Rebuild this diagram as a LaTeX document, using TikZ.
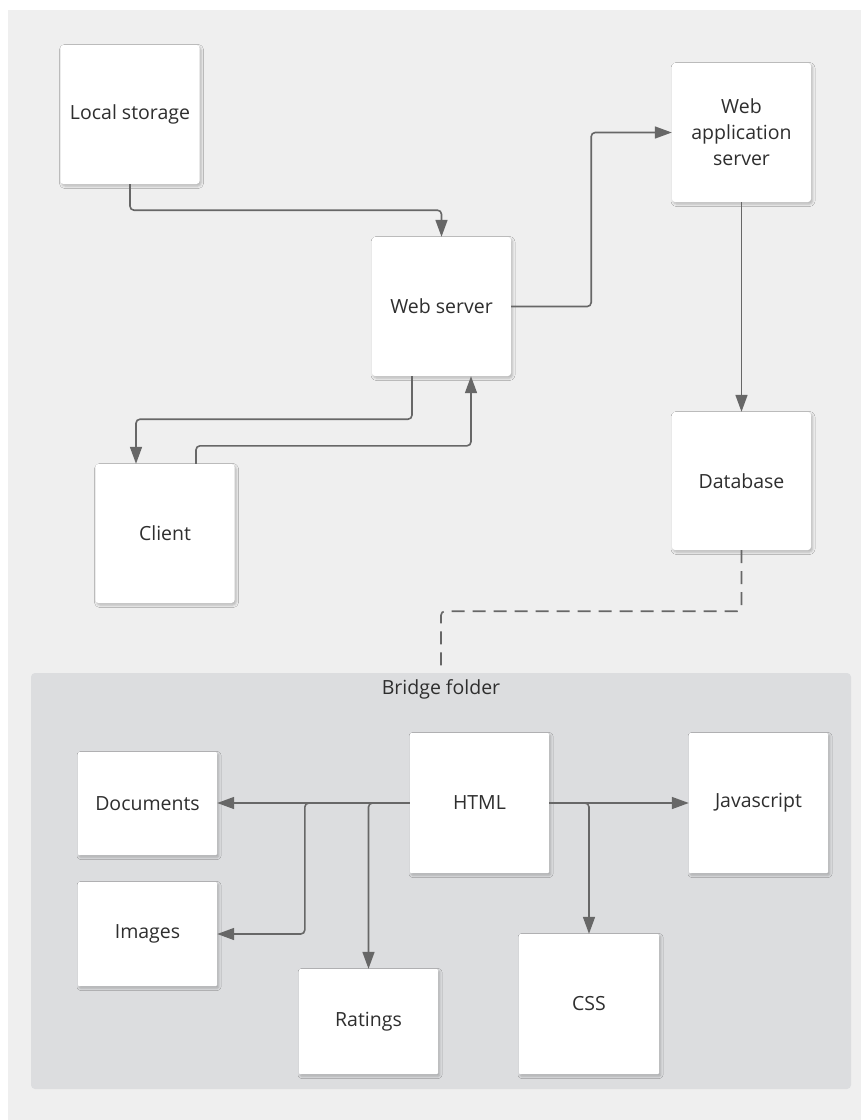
\documentclass[tikz,border=0pt]{standalone}
\usepackage{fontspec}
\setmainfont{Open Sans}
\usetikzlibrary{arrows.meta,shadows.blur,calc}
\definecolor{bgc}{HTML}{EFEFEF}
\definecolor{panelc}{HTML}{DCDDDF}
\definecolor{linec}{HTML}{676767}
\definecolor{txtc}{HTML}{2E2E2E}
\tikzset{
  box/.style={draw=none,fill=white,rounded corners=3pt,minimum width=139pt,minimum height=139pt,
    inner sep=0pt,align=center,text=txtc,font=\fontsize{19.5}{26}\selectfont,
    blur shadow={shadow xshift=1.5pt,shadow yshift=-2pt,shadow blur radius=2.5pt,shadow opacity=25}},
  ibox/.style={box,rounded corners=1pt},
  conn/.style={draw=linec,line width=1.6pt,rounded corners=4pt,-{Triangle[length=17pt,width=12pt]}},
  dconn/.style={draw=linec,line width=1.6pt,rounded corners=4pt,dash pattern=on 13pt off 8pt},
}
\begin{document}
\begin{tikzpicture}[x=1pt,y=-1pt]
\path[use as bounding box] (0,0) rectangle (861,1120);
\fill[bgc] (8,10) rectangle (861,1120);
\node[fill=panelc,rounded corners=4pt,minimum width=820pt,minimum height=416pt,inner sep=0pt] (panel) at (441,881) {};
\node[text=txtc,font=\fontsize{19.5}{22}\selectfont] (bf) at (441,689) {Bridge folder};
% top boxes
\node[box] (ls) at (130,114.5) {Local storage};
\node[box] (ws) at (441.5,306.5) {Web server};
\node[box] (was) at (741.5,132.5) {Web\\application\\server};
\node[box,minimum height=138pt] (db) at (741.5,481) {Database};
\node[box] (cl) at (165,533.5) {Client};
% panel boxes
\node[ibox,minimum height=103pt] (doc) at (147.5,803.5) {Documents};
\node[ibox,minimum height=104pt] (img) at (147.5,934) {Images};
\node[ibox,minimum height=140pt] (html) at (479.5,803) {HTML};
\node[ibox,minimum height=140pt] (js) at (758.5,803) {Javascript};
\node[ibox,minimum height=105pt] (rat) at (368.5,1021.5) {Ratings};
\node[ibox,minimum width=140pt,minimum height=140pt] (css) at (589,1004) {CSS};
% connectors
\draw[conn] (ls.south) -- ++(0,26) -| (ws.north);
\draw[conn] (ws.east) -- ++(80,0) |- (was.west);
\draw[conn] (was.south) -- (db.north);
\draw[conn] ([xshift=-29.5pt]ws.south) -- ++(0,43) -| ([xshift=-29pt]cl.north);
\draw[conn] ([xshift=31pt]cl.north) -- ++(0,-18) -| ([xshift=29.5pt]ws.south);
\draw[dconn] (db.south) -- ++(0,61) -| (panel.north);
\draw[conn] (html.west) -- (html.west -| doc.east);
\draw[conn] (html.west) -- ++(-105,0) |- (img.east);
\draw[conn] (html.west) -| (rat.north);
\draw[conn] (html.east) -- (js.west);
\draw[conn] (html.east) -| (css.north);
\end{tikzpicture}
\end{document}
